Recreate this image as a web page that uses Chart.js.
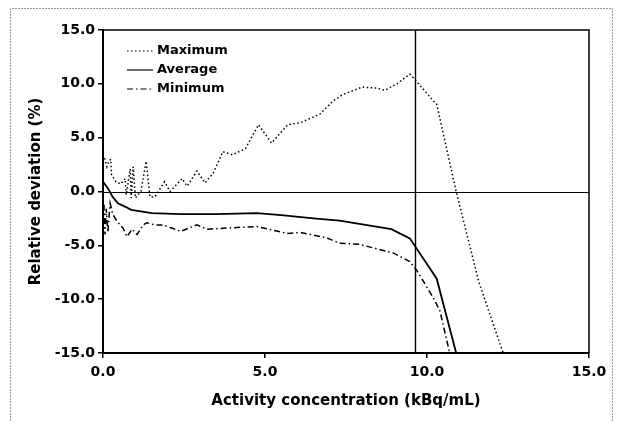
<!DOCTYPE html>
<html>
<head>
<meta charset="utf-8">
<script src="https://cdn.jsdelivr.net/npm/chart.js@4.4.1/dist/chart.umd.min.js"></script>
<style>
  html, body { margin: 0; padding: 0; background: #fff; }
  #chart { display: block; }
</style>
</head>
<body>
<canvas id="chart" width="623" height="422"></canvas>
<script>
// Relative deviation vs activity concentration
const maxX = [0.05, 0.12, 0.18, 0.24, 0.26, 0.40, 0.55, 0.68, 0.72, 0.84, 0.87, 0.93, 1.0, 1.17, 1.33, 1.45, 1.6, 1.9, 2.07, 2.44, 2.6, 2.9, 3.15, 3.4, 3.7, 4.0, 4.4, 4.8, 5.2, 5.7, 6.1, 6.7, 7.1, 7.4, 8.0, 8.45, 8.7, 9.07, 9.47, 9.63, 10.2, 10.3, 10.9, 11.6, 12.35];
const maxY = [3.1, 2.3, 2.8, 3.0, 1.6, 0.9, 0.7, 1.2, -0.3, 2.1, -0.6, 2.3, -0.6, 0.0, 2.8, -0.5, -0.5, 0.9, 0.0, 1.2, 0.5, 1.9, 0.8, 1.7, 3.7, 3.4, 4.0, 6.2, 4.5, 6.2, 6.4, 7.2, 8.4, 9.0, 9.7, 9.6, 9.4, 10.0, 10.9, 10.4, 8.4, 8.1, 0.0, -8.4, -15.0];

const avgX = [0, 0.15, 0.3, 0.46, 0.68, 0.87, 1.17, 1.5, 2.4, 3.5, 4.75, 5.5, 6.5, 7.3, 8.1, 8.9, 9.47, 10.3, 10.9];
const avgY = [0.9, 0.3, -0.5, -1.1, -1.4, -1.7, -1.85, -2.0, -2.1, -2.1, -2.0, -2.2, -2.5, -2.7, -3.1, -3.5, -4.35, -8.1, -15.0];

const minX = [0.03, 0.06, 0.1, 0.15, 0.22, 0.3, 0.4, 0.52, 0.62, 0.74, 0.9, 1.05, 1.24, 1.35, 1.6, 1.85, 2.4, 2.9, 3.2, 3.8, 4.75, 5.7, 6.1, 6.9, 7.3, 7.9, 8.95, 9.47, 9.7, 10.2, 10.4, 10.7];
const minY = [-1.2, -4.0, -1.6, -3.8, -1.1, -2.1, -2.6, -3.1, -3.4, -4.2, -3.5, -4.0, -3.1, -2.9, -3.1, -3.1, -3.7, -3.1, -3.5, -3.4, -3.25, -3.9, -3.8, -4.3, -4.8, -4.9, -5.7, -6.5, -7.4, -9.9, -11.1, -15.0];

const xTicks = [0, 5, 10, 15];
const yTicks = [-15, -10, -5, 0, 5, 10, 15];
const markerX = 9.63;

const FONT = '"DejaVu Sans", Verdana, sans-serif';

function toPoints(xs, ys) {
  return xs.map((x, i) => ({ x: x, y: ys[i] }));
}

// Outer dotted frame, box lines, zero line, marker line and inset legend
const decorations = {
  id: 'decorations',
  beforeDraw(chart) {
    const ctx = chart.ctx;
    ctx.save();
    ctx.strokeStyle = '#9a9a9a';
    ctx.lineWidth = 1;
    ctx.setLineDash([2, 1]);
    ctx.beginPath();
    ctx.moveTo(10.5, 430);
    ctx.lineTo(10.5, 8.5);
    ctx.lineTo(612.5, 8.5);
    ctx.lineTo(612.5, 430);
    ctx.stroke();
    ctx.restore();
  },
  afterDatasetsDraw(chart) {
    const { ctx, chartArea, scales } = chart;
    ctx.save();
    ctx.strokeStyle = '#000';
    ctx.setLineDash([]);

    ctx.lineWidth = 1.5;
    ctx.beginPath();
    ctx.moveTo(chartArea.left, chartArea.top);
    ctx.lineTo(chartArea.right, chartArea.top);
    ctx.lineTo(chartArea.right, chartArea.bottom);
    ctx.stroke();

    const y0 = Math.round(scales.y.getPixelForValue(0)) + 0.5;
    ctx.lineWidth = 1.2;
    ctx.beginPath();
    ctx.moveTo(chartArea.left, y0);
    ctx.lineTo(chartArea.right, y0);
    ctx.stroke();

    const xm = Math.round(scales.x.getPixelForValue(markerX)) + 0.5;
    ctx.lineWidth = 1.4;
    ctx.beginPath();
    ctx.moveTo(xm, chartArea.top);
    ctx.lineTo(xm, chartArea.bottom);
    ctx.stroke();

    // legend
    ctx.font = 'bold 13px ' + FONT;
    ctx.textBaseline = 'middle';
    ctx.fillStyle = '#000';
    chart.data.datasets.forEach((ds, i) => {
      const y = 51 + i * 19;
      ctx.lineWidth = 1.2;
      ctx.setLineDash(ds.borderDash || []);
      ctx.beginPath();
      ctx.moveTo(127, y);
      ctx.lineTo(153, y);
      ctx.stroke();
      ctx.setLineDash([]);
      ctx.fillText(ds.label, 157, y);
    });
    ctx.restore();
  }
};

new Chart(document.getElementById('chart'), {
  type: 'line',
  data: {
    datasets: [
      {
        label: 'Maximum',
        data: toPoints(maxX, maxY),
        borderColor: '#000',
        borderWidth: 1.5,
        borderDash: [1.5, 2.5]
      },
      {
        label: 'Average',
        data: toPoints(avgX, avgY),
        borderColor: '#000',
        borderWidth: 1.8,
        borderDash: []
      },
      {
        label: 'Minimum',
        data: toPoints(minX, minY),
        borderColor: '#000',
        borderWidth: 1.5,
        borderDash: [6, 3, 1.5, 3]
      }
    ]
  },
  options: {
    responsive: false,
    animation: false,
    devicePixelRatio: 1,
    layout: { padding: { left: 0, top: 30, right: 34, bottom: 0 } },
    elements: {
      point: { radius: 0 },
      line: { tension: 0 }
    },
    plugins: {
      legend: { display: false },
      tooltip: { enabled: false }
    },
    scales: {
      x: {
        type: 'linear',
        min: 0,
        max: 15,
        afterFit(scale) { scale.height = 69; },
        afterBuildTicks(scale) { scale.ticks = xTicks.map(v => ({ value: v })); },
        ticks: {
          color: '#000',
          padding: 6,
          font: { family: FONT, size: 14, weight: 'bold' },
          callback: v => v.toFixed(1)
        },
        grid: { drawOnChartArea: false, color: '#000', tickLength: 5, lineWidth: 1.5 },
        border: { color: '#000', width: 2 },
        title: {
          display: true,
          text: 'Activity concentration (kBq/mL)',
          color: '#000',
          font: { family: FONT, size: 15, weight: 'bold' },
          padding: { top: 0, bottom: 12 }
        }
      },
      y: {
        type: 'linear',
        min: -15,
        max: 15,
        afterFit(scale) { scale.width = 103; },
        afterBuildTicks(scale) { scale.ticks = yTicks.map(v => ({ value: v })); },
        ticks: {
          color: '#000',
          padding: 3,
          font: { family: FONT, size: 14, weight: 'bold' },
          callback: v => v.toFixed(1)
        },
        grid: { drawOnChartArea: false, color: '#000', tickLength: 5, lineWidth: 1.5 },
        border: { color: '#000', width: 2 },
        title: {
          display: true,
          text: 'Relative deviation (%)',
          color: '#000',
          font: { family: FONT, size: 15, weight: 'bold' },
          padding: { top: 27, bottom: 0 }
        }
      }
    }
  },
  plugins: [decorations]
});
</script>
</body>
</html>
